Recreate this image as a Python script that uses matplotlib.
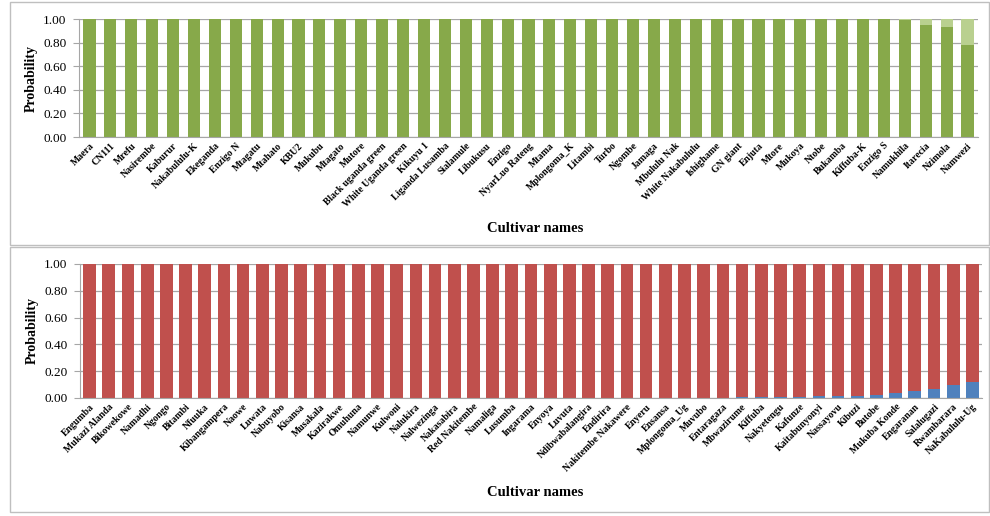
import matplotlib
matplotlib.use("Agg")
import matplotlib.pyplot as plt
from matplotlib.patches import Rectangle
import numpy as np

# Upper panel: cultivars assigned mostly to group 1 (green)
top_names = ["Maera", "CN111", "Mrefu", "Nasirembe", "Kaburur", "Nakabululu-K",
             "Ekeganda", "Enzigo N", "Mtagatu", "Mtahato", "KBU2", "Mukubu",
             "Mtagato", "Mutore", "Black uganda green", "White Uganda green",
             "Kikuyu 1", "Liganda Lusamba", "Sialamule", "Libukusu", "Enzigo",
             "NyarLuo Rateng", "Mtama", "Mplongoma_K", "Litambi", "Turbo",
             "Ngombe", "Jamaga", "Mbululu Nak", "White Nakabululu", "Ishighame",
             "GN giant", "Enjuta", "Mtore", "Mukoya", "Ntobe", "Bukamba",
             "Kiffuba-K", "Enzigo S", "Namukhila", "Itarecia", "Nzimola", "Namwezi"]
top_main = [1.00] * 39 + [0.99, 0.95, 0.93, 0.78]

# Lower panel: cultivars assigned mostly to group 2 (red)
bot_names = ["Engumba", "Mukazi Alanda", "Bikowekowe", "Namadhi", "Ngongo",
             "Bitambi", "Nfuuka", "Kibangampera", "Naowe", "Luwata", "Nabuyobo",
             "Kisansa", "Musakala", "Kazirakwe", "Omuhuna", "Namunwe", "Kulwoni",
             "Nalukira", "Nalwezinga", "Nakasabira", "Red Nakitembe", "Namaliga",
             "Lusumba", "Ingarama", "Enyoya", "Luvuta", "Ndibwabalangira",
             "Endirira", "Nakitembe Nakawere", "Enyeru", "Ensansa",
             "Mplongoma_Ug", "Muvubo", "Entaragaza", "Mbwazirume", "Kiffuba",
             "Nakyetengu", "Kafunze", "Kaitabunyonyi", "Nassayovu", "Kibuzi",
             "Butobe", "Mukuba Konde", "Engaranan", "Salalugazi", "Rwambarara",
             "NaKabululu-Ug"]
bot_minor = [0.0] * 34 + [0.005, 0.008, 0.008, 0.010, 0.012, 0.013, 0.015,
                          0.025, 0.040, 0.050, 0.065, 0.100, 0.120]

yticks = [0.0, 0.2, 0.4, 0.6, 0.8, 1.0]

GREEN = "#87A94A"
LIGHT_GREEN = "#B9D08F"
RED = "#C0504D"
BLUE = "#4F81BD"
GRID = "#A6A6A6"

W, H = 990, 516
fig = plt.figure(figsize=(W / 100, H / 100), dpi=100)
fig.patch.set_facecolor("white")

serif = ["Liberation Serif", "DejaVu Serif"]


def box(x0, y0, x1, y1):
    return [x0 / W, 1 - y1 / H, (x1 - x0) / W, (y1 - y0) / H]


# chart frames
for (x0, y0, x1, y1) in [(10, 2, 989, 245), (10, 247, 989, 512)]:
    fig.patches.append(Rectangle((x0 / W, 1 - y1 / H), (x1 - x0) / W, (y1 - y0) / H,
                                 transform=fig.transFigure, fill=False,
                                 edgecolor="#BFBFBF", linewidth=1.0))


def style_axes(ax, names, n):
    ax.set_xlim(-0.5, n - 0.5)
    ax.set_ylim(0, 1.0)
    ax.set_yticks(yticks)
    ax.set_yticklabels([f"{v:.2f}" for v in yticks], family=serif, fontsize=9.5)
    ax.set_xticks(np.arange(n))
    ax.set_xticklabels(names, rotation=45, ha="right", rotation_mode="anchor",
                       family=serif, fontsize=7, fontweight="bold")
    ax.yaxis.grid(True, color=GRID, linewidth=0.9)
    ax.set_axisbelow(True)
    for s in ["top", "right"]:
        ax.spines[s].set_visible(False)
    for s in ["left", "bottom"]:
        ax.spines[s].set_color(GRID)
    ax.tick_params(axis="y", length=4, color=GRID, pad=5)
    ax.tick_params(axis="x", length=0, pad=3)
    ax.set_ylabel("Probability", family=serif, fontsize=10, fontweight="bold", labelpad=4)


# Top chart
ax1 = fig.add_axes(box(79, 19, 978, 137))
n1 = len(top_names)
x1 = np.arange(n1)
main1 = np.array(top_main)
ax1.bar(x1, main1, width=0.58, color=GREEN, zorder=2)
ax1.bar(x1, 1 - main1, bottom=main1, width=0.58, color=LIGHT_GREEN, zorder=2)
style_axes(ax1, top_names, n1)
fig.text(535 / W, 1 - 228 / H, "Cultivar names", ha="center", va="center",
         family=serif, fontsize=10.5, fontweight="bold")

# Bottom chart
ax2 = fig.add_axes(box(80, 264, 982, 398))
n2 = len(bot_names)
x2 = np.arange(n2)
minor2 = np.array(bot_minor)
ax2.bar(x2, minor2, width=0.66, color=BLUE, zorder=2)
ax2.bar(x2, 1 - minor2, bottom=minor2, width=0.66, color=RED, zorder=2)
style_axes(ax2, bot_names, n2)
fig.text(535 / W, 1 - 493 / H, "Cultivar names", ha="center", va="center",
         family=serif, fontsize=10.5, fontweight="bold")

fig.savefig("out.png", dpi=100, facecolor="white")
